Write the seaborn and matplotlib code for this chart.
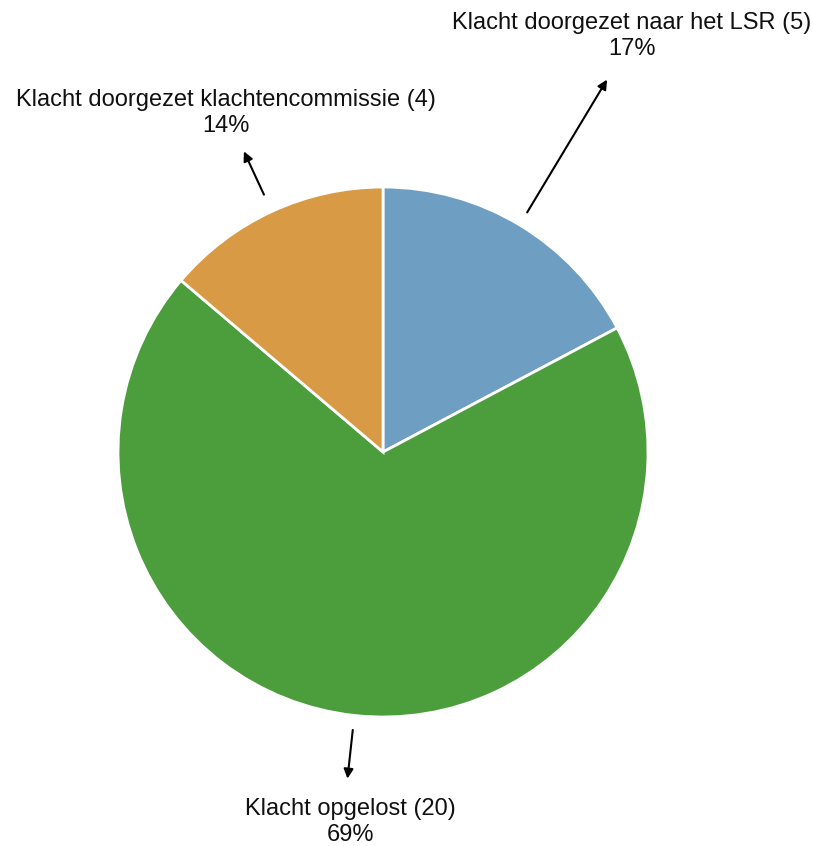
import numpy as np
import matplotlib
matplotlib.use("Agg")
import matplotlib.pyplot as plt
import seaborn as sns

# data
labels = ["Klacht doorgezet naar het LSR", "Klacht opgelost", "Klacht doorgezet klachtencommissie"]
values = [5, 20, 4]
colors = ["#6E9EC2", "#4C9E3C", "#D99A45"]

sns.set_theme(style="white")
plt.rcParams['font.family'] = ['Liberation Sans', 'DejaVu Sans']

W, H = 813, 846
fig = plt.figure(figsize=(W / 100, H / 100), dpi=100)
ax = fig.add_axes([0, 0, 1, 1])

cx, cy, r = 383, H - 452, 265
wedges, _ = ax.pie(values, colors=colors, startangle=90, counterclock=False,
                   center=(cx, cy), radius=r, frame=True,
                   wedgeprops=dict(edgecolor="white", linewidth=2))
ax.set_xlim(0, W)
ax.set_ylim(0, H)
ax.set_aspect("equal")
ax.axis("off")

total = sum(values)
# (tail factor, head factor, text x, text y) per slice
arrow_cfg = [(1.055, 1.64, 632, H - 36),
             (1.055, 1.24, 350, H - 822),
             (1.07, 1.25, 226, H - 113)]
for w, lab, v, (t0, t1, tx, ty) in zip(wedges, labels, values, arrow_cfg):
    ang = np.deg2rad((w.theta1 + w.theta2) / 2)
    tail = (cx + t0 * r * np.cos(ang), cy + t0 * r * np.sin(ang))
    head = (cx + t1 * r * np.cos(ang), cy + t1 * r * np.sin(ang))
    ax.annotate("", xy=head, xytext=tail,
                arrowprops=dict(arrowstyle="-|>", color="black", lw=1.5,
                                mutation_scale=14, shrinkA=0, shrinkB=0))
    pct = round(v / total * 100)
    ax.text(tx, ty, f"{lab} ({v})\n{pct}%", ha="center", va="center",
            fontsize=17, color="#111111", linespacing=1.2)

fig.savefig("out.png", dpi=100)
